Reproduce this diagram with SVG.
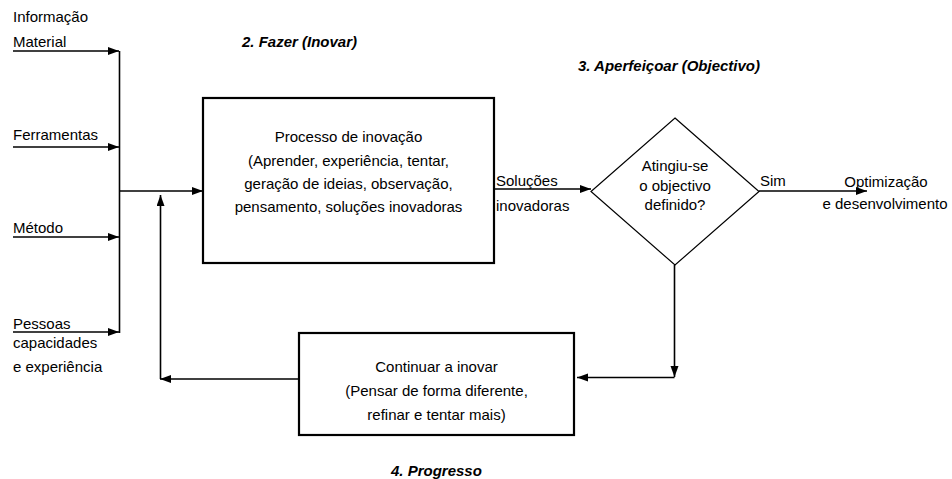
<svg xmlns="http://www.w3.org/2000/svg" width="952" height="479" viewBox="0 0 952 479">
  <style>
    text { font-family: "Liberation Sans", Arial, sans-serif; font-size: 15px; fill: #000; }
    .c { text-anchor: middle; }
    .title { font-weight: bold; font-style: italic; }
    .box { fill: #fff; stroke: #000; stroke-width: 2.2; }
    .dia { fill: #fff; stroke: #000; stroke-width: 1.2; }
    .ln { fill: none; stroke: #000; stroke-width: 1.6; }
    .arr { marker-end: url(#ah); }
  </style>
  <defs>
    <marker id="ah" markerUnits="userSpaceOnUse" markerWidth="12" markerHeight="9" refX="11" refY="4" orient="auto">
      <path d="M0,0 L11,4 L0,8 z" fill="#000"/>
    </marker>
  </defs>

  <rect width="952" height="479" fill="#fff"/>

  <!-- section titles -->
  <g id="titles">
    <text class="title" x="242" y="47">2. Fazer (Inovar)</text>
    <text class="title" x="578" y="71">3. Aperfeiçoar (Objectivo)</text>
    <text class="title" x="391" y="476">4. Progresso</text>
  </g>

  <!-- input labels -->
  <g id="inputs">
    <text x="13" y="22">Informação</text>
    <text x="13" y="47">Material</text>
    <text x="13" y="140">Ferramentas</text>
    <text x="13" y="233">Método</text>
    <text x="13" y="329">Pessoas</text>
    <text x="13" y="348">capacidades</text>
    <text x="13" y="372">e experiência</text>
  </g>

  <!-- connectors -->
  <g id="connectors">
    <line class="ln arr" x1="13" y1="51" x2="119" y2="51"/>
    <line class="ln arr" x1="13" y1="147" x2="119" y2="147"/>
    <line class="ln arr" x1="13" y1="237" x2="119" y2="237"/>
    <line class="ln arr" x1="13" y1="332" x2="119" y2="332"/>
    <line class="ln" x1="119.5" y1="51" x2="119.5" y2="333"/>
    <line class="ln arr" x1="119.5" y1="191" x2="203" y2="191"/>
    <!-- feedback loop back into the process -->
    <line class="ln arr" x1="299" y1="379" x2="160" y2="379"/>
    <line class="ln arr" x1="160.5" y1="379" x2="160.5" y2="195"/>
    <!-- process to decision -->
    <line class="ln arr" x1="494" y1="189" x2="591" y2="189"/>
    <!-- yes branch -->
    <line class="ln arr" x1="759" y1="191" x2="867" y2="191"/>
    <!-- no branch -->
    <line class="ln arr" x1="674.5" y1="265" x2="674.5" y2="377"/>
    <line class="ln arr" x1="674.5" y1="377.5" x2="577" y2="377.5"/>
  </g>

  <!-- innovation process -->
  <g id="process">
    <rect class="box" x="203" y="98" width="291" height="165"/>
    <text class="c" x="348.5" y="141.5">Processo de inovação</text>
    <text class="c" x="348.5" y="165.5">(Aprender, experiência, tentar,</text>
    <text class="c" x="348.5" y="189">geração de ideias, observação,</text>
    <text class="c" x="348.5" y="212">pensamento, soluções inovadoras</text>
  </g>

  <g id="solutions-label">
    <text x="496" y="186">Soluções</text>
    <text x="496" y="211">inovadoras</text>
  </g>

  <!-- decision -->
  <g id="decision">
    <polygon class="dia" points="675,118 759,191.5 675,265 591,191.5"/>
    <text class="c" x="675" y="171">Atingiu-se</text>
    <text class="c" x="675" y="190.5">o objectivo</text>
    <text class="c" x="675" y="210">definido?</text>
  </g>

  <g id="yes-label">
    <text x="760" y="186">Sim</text>
  </g>

  <g id="outcome">
    <text class="c" x="886" y="187">Optimização</text>
    <text class="c" x="885" y="209">e desenvolvimento</text>
  </g>

  <!-- continue innovating -->
  <g id="continue">
    <rect class="box" x="299" y="333" width="275" height="102"/>
    <text class="c" x="436.5" y="372">Continuar a inovar</text>
    <text class="c" x="436.5" y="396">(Pensar de forma diferente,</text>
    <text class="c" x="436.5" y="420">refinar e tentar mais)</text>
  </g>
</svg>
